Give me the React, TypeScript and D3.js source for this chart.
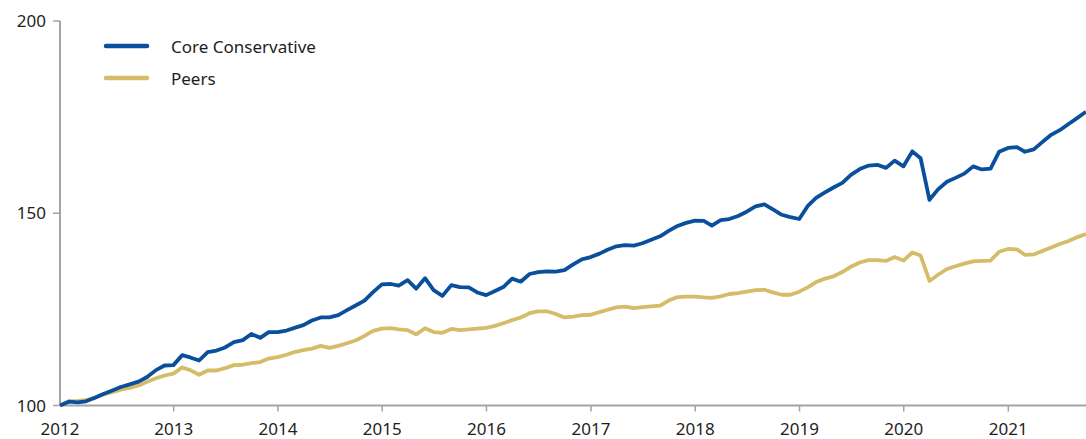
import React from "react";
import * as d3 from "d3";

// Monthly index levels, Nov 2011 = 100, through Sep 2021
const coreConservative = [
  100.0, 101.0, 100.8, 101.1, 102.0, 103.0, 103.9, 104.8, 105.5, 106.2,
  107.4, 109.2, 110.4, 110.5, 113.1, 112.5, 111.7, 113.9, 114.3, 115.1,
  116.5, 117.0, 118.6, 117.6, 119.1, 119.1, 119.5, 120.2, 120.9, 122.1,
  122.9, 122.9, 123.5, 124.8, 126.0, 127.3, 129.5, 131.5, 131.6, 131.2,
  132.6, 130.4, 133.1, 130.0, 128.5, 131.3, 130.8, 130.7, 129.4, 128.7,
  129.8, 130.8, 133.0, 132.2, 134.2, 134.7, 134.9, 134.8, 135.2, 136.7,
  138.0, 138.6, 139.5, 140.5, 141.4, 141.7, 141.6, 142.2, 143.1, 144.0,
  145.4, 146.7, 147.5, 148.1, 148.0, 146.8, 148.2, 148.5, 149.3, 150.4,
  151.8, 152.3, 151.0, 149.6, 149.0, 148.5, 152.0, 154.0, 155.4, 156.7,
  157.9, 160.0, 161.5, 162.4, 162.6, 161.8, 163.7, 162.2, 166.1, 164.3,
  153.5, 156.2, 158.2, 159.2, 160.3, 162.2, 161.4, 161.6, 166.0, 167.0,
  167.2, 166.0, 166.6, 168.5, 170.4, 171.6, 173.2, 174.8, 176.4,
];

const peers = [
  100.0, 101.1, 101.2, 101.4, 102.0, 102.9, 103.5, 104.1, 104.6, 105.2,
  106.2, 107.1, 107.8, 108.3, 109.9, 109.2, 108.0, 109.1, 109.1, 109.7,
  110.5, 110.6, 111.0, 111.3, 112.2, 112.6, 113.2, 113.9, 114.4, 114.8,
  115.5, 115.0, 115.5, 116.2, 116.9, 118.1, 119.4, 120.0, 120.1, 119.8,
  119.6, 118.5, 120.1, 119.1, 118.9, 119.9, 119.6, 119.8, 120.0, 120.2,
  120.7, 121.4, 122.2, 122.9, 124.0, 124.5, 124.5, 123.8, 122.9, 123.1,
  123.5, 123.6, 124.3, 124.9, 125.5, 125.7, 125.3, 125.6, 125.8, 126.0,
  127.3, 128.2, 128.3, 128.3, 128.1, 128.0, 128.4, 129.0, 129.2, 129.6,
  130.0, 130.1, 129.4, 128.8, 128.8, 129.6, 130.8, 132.1, 133.0, 133.6,
  134.7, 136.1, 137.2, 137.8, 137.8, 137.6, 138.6, 137.7, 139.8, 139.0,
  132.4, 134.0, 135.5, 136.2, 136.9, 137.5, 137.6, 137.7, 140.0, 140.7,
  140.6, 139.2, 139.3, 140.2, 141.1, 142.0, 142.8, 143.8, 144.6,
];

const yearLabels = ["2012", "2013", "2014", "2015", "2016", "2017", "2018", "2019", "2020", "2021"];
const yTicks = [100, 150, 200];
const seriesNames = ["Core Conservative", "Peers"];
const seriesColors = ["#0a4f9c", "#d5bc68"];

const W = 1086;
const H = 439;
const M = { left: 60, right: 0, top: 21, bottom: 33.5 };

export default function App() {
  const dates = d3.range(coreConservative.length).map((i) =>
    d3.timeDay.offset(d3.timeMonth.offset(new Date(2011, 11, 1), i), -1)
  );
  const x = d3
    .scaleTime()
    .domain([dates[0], dates[dates.length - 1]])
    .range([M.left, W - M.right]);
  const y = d3.scaleLinear().domain([100, 200]).range([H - M.bottom, M.top]);

  const line = d3
    .line<number>()
    .x((_, i) => x(dates[i]))
    .y((v) => y(v));

  const axisColor = "#a3a3a3";
  const textColor = "#1e1e1e";
  const font = "'Noto Sans', 'Open Sans', sans-serif";
  const y0 = y(100);

  return (
    <svg
      width={W}
      height={H}
      style={{ position: "absolute", left: 0, top: 0, background: "#fff" }}
      fontFamily={font}
    >
      {/* y axis */}
      <line x1={M.left} x2={M.left} y1={y(200)} y2={y0} stroke={axisColor} strokeWidth={2} />
      {yTicks.map((t) => (
        <g key={t}>
          <line x1={M.left - 7} x2={M.left} y1={y(t)} y2={y(t)} stroke={axisColor} strokeWidth={1.5} />
          <text x={46} y={y(t) + 6} textAnchor="end" fontSize={17} fill={textColor}>
            {t}
          </text>
        </g>
      ))}
      {/* x axis */}
      <line x1={M.left} x2={W} y1={y0} y2={y0} stroke={axisColor} strokeWidth={2} />
      {yearLabels.map((lab, k) => {
        const xp = k === 0 ? x(dates[0]) : x(new Date(+lab, 0, 1));
        return (
          <g key={lab}>
            {k > 0 && (
              <line x1={xp} x2={xp} y1={y0} y2={y0 + 6} stroke={axisColor} strokeWidth={1.5} />
            )}
            <text x={xp} y={435} textAnchor="middle" fontSize={17} fill={textColor}>
              {lab}
            </text>
          </g>
        );
      })}
      {/* lines */}
      <path
        d={line(peers) || ""}
        fill="none"
        stroke={seriesColors[1]}
        strokeWidth={3.8}
        strokeLinejoin="round"
      />
      <path
        d={line(coreConservative) || ""}
        fill="none"
        stroke={seriesColors[0]}
        strokeWidth={3.8}
        strokeLinejoin="round"
      />
      {/* legend */}
      {seriesNames.map((name, i) => (
        <g key={name} transform={`translate(0, ${46 + i * 32})`}>
          <line x1={106} x2={147} y1={0} y2={0} stroke={seriesColors[i]} strokeWidth={4.5} strokeLinecap="round" />
          <text x={171} y={7} fontSize={17} fill={textColor}>
            {name}
          </text>
        </g>
      ))}
    </svg>
  );
}
